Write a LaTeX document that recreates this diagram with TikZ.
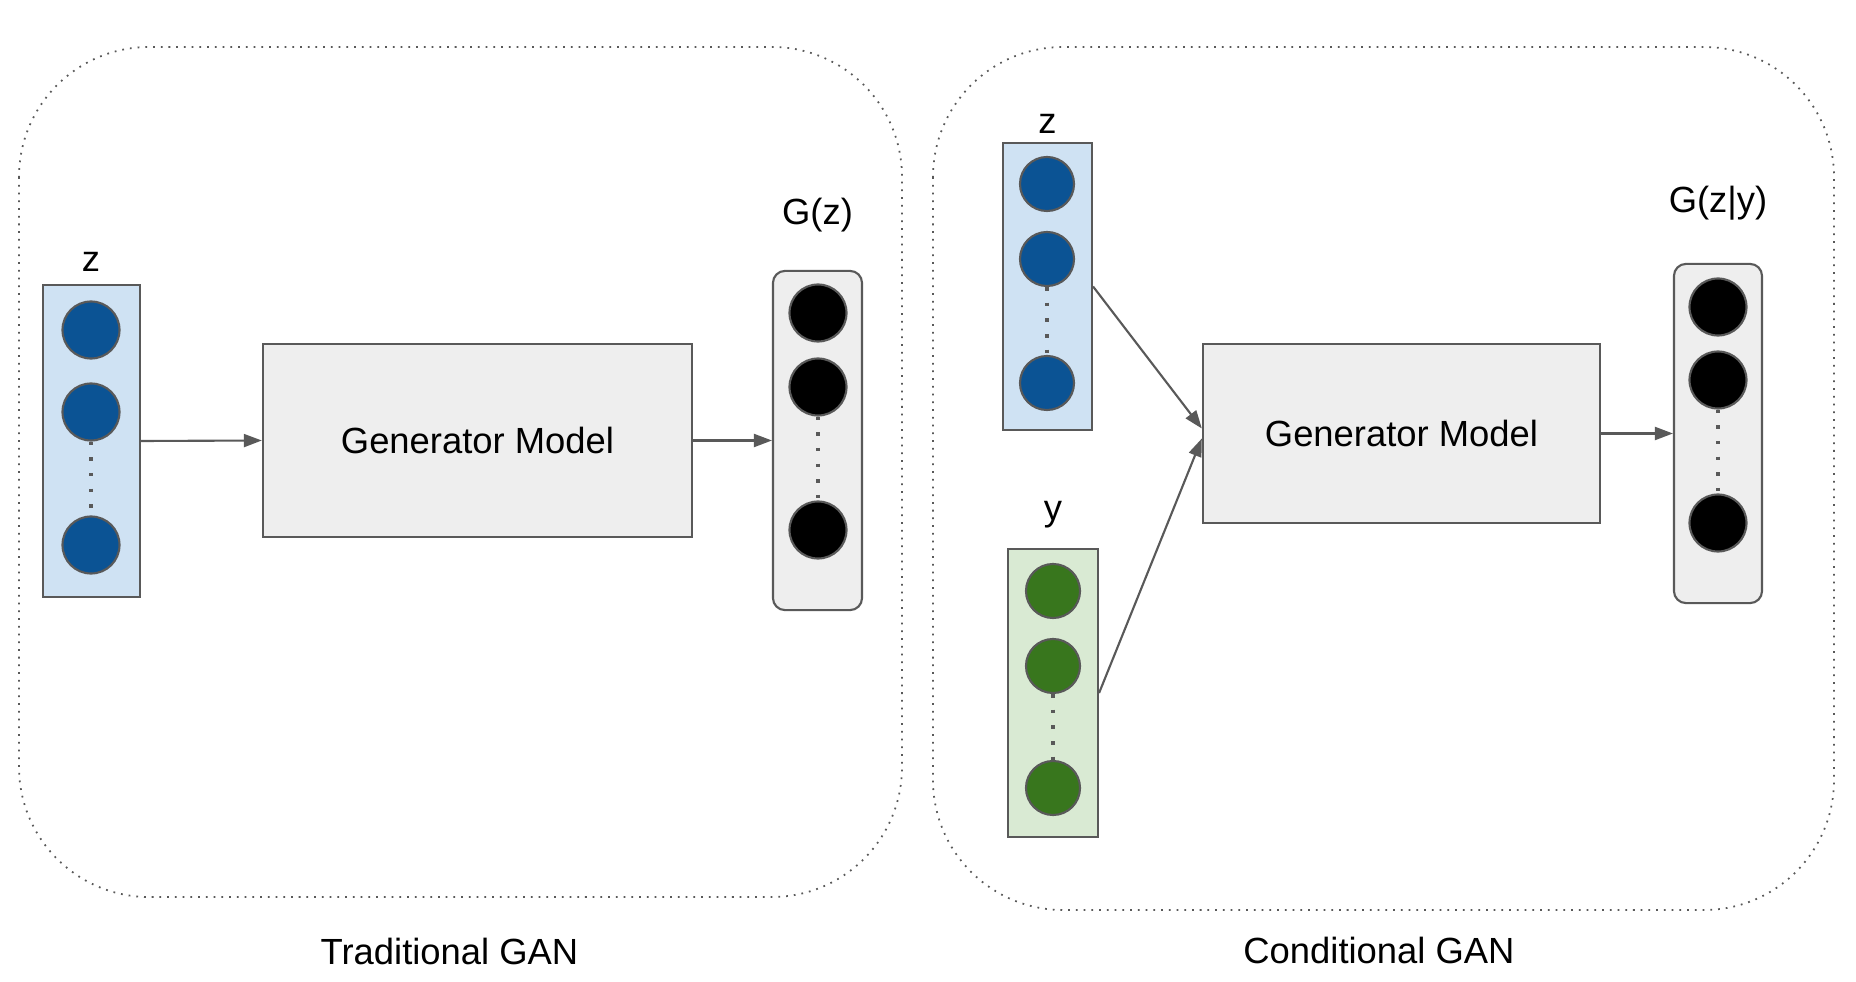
\documentclass[tikz,border=0pt]{standalone}
\usepackage{fontspec}
\setmainfont{Liberation Sans}
\usetikzlibrary{arrows.meta, positioning}
\definecolor{edge}{HTML}{595959}
\definecolor{zback}{HTML}{CFE2F3}
\definecolor{zdot}{HTML}{0B5394}
\definecolor{yback}{HTML}{D9EAD3}
\definecolor{ydot}{HTML}{38761D}
\definecolor{genback}{HTML}{EEEEEE}
\tikzset{>={Triangle[length=0.18cm, width=0.13cm]}, node distance = 1cm}

\begin{document}
\begin{tikzpicture}[x=0.01cm, y=-0.01cm,
frame/.style={draw=edge, line width=0.5pt, dash pattern=on 0.5pt off 1.7pt, rounded corners=1.3cm},
vec/.style={rectangle, draw=edge, line width=0.6pt, inner sep=0pt},
outvec/.style={vec, fill=genback, rounded corners=0.12cm, minimum width=0.89cm, minimum height=3.39cm},
unit/.style={circle, draw=edge, line width=0.6pt, minimum size=0.57cm, inner sep=0pt},
gen/.style={rectangle, draw=edge, line width=0.6pt, fill=genback, font=\fontsize{10.35}{12}\selectfont},
lbl/.style={anchor=base, inner sep=0pt, font=\fontsize{10.35}{12}\selectfont},
dots/.style={draw=edge, line width=1pt, dash pattern=on 1pt off 3.45pt},
link/.style={->, draw=edge, line width=0.6pt}]
    \useasboundingbox[fill=white] (0,0) rectangle (1856,982);

    \draw[frame] (19,47) rectangle (902,897);
    \draw[frame] (933,47) rectangle (1834,910);

    % traditional
    \node[vec, fill=zback, minimum width=0.97cm, minimum height=3.12cm] (tz) at (91.5,441) {};
    \node[unit, fill=zdot] (tz1) at (91,330) {};
    \node[unit, fill=zdot] (tz2) at (91,412) {};
    \node[unit, fill=zdot] (tz3) at (91,545) {};
    \node[lbl] (tzl) at (91,272) {z};

    \node[gen, minimum width=4.29cm, minimum height=1.93cm] (tgen) at (477.5,440.5) {Generator Model};

    \node[outvec] (tout) at (817.5,440.5) {};
    \node[unit, fill=black] (tout1) at (818,313) {};
    \node[unit, fill=black] (tout2) at (818,387) {};
    \node[unit, fill=black] (tout3) at (818,530) {};
    \node[lbl] (toutl) at (817.5,225) {G(z)};

    \draw[dots] (tz2) -- (tz3);
    \draw[dots] (tout2) -- (tout3);
    \draw[link] (tz.east) -- (tgen.west);
    \draw[link] (tgen.east) -- (tout.west);

    \node[lbl] (tcap) at (449.5,964) {Traditional GAN};

    % conditional
    \node[vec, fill=zback, minimum width=0.89cm, minimum height=2.87cm] (cz) at (1047.5,286.5) {};
    \node[unit, fill=zdot, minimum size=0.54cm] (cz1) at (1047,184) {};
    \node[unit, fill=zdot, minimum size=0.54cm] (cz2) at (1047,259) {};
    \node[unit, fill=zdot, minimum size=0.54cm] (cz3) at (1047,383) {};
    \node[lbl] (czl) at (1047.5,134) {z};

    \node[vec, fill=yback, minimum width=0.9cm, minimum height=2.88cm] (cy) at (1053,693) {};
    \node[unit, fill=ydot, minimum size=0.54cm] (cy1) at (1053,591) {};
    \node[unit, fill=ydot, minimum size=0.54cm] (cy2) at (1053,666) {};
    \node[unit, fill=ydot, minimum size=0.54cm] (cy3) at (1053,788) {};
    \node[lbl] (cyl) at (1053,521) {y};

    \node[gen, minimum width=3.97cm, minimum height=1.79cm] (cgen) at (1401.5,433.5) {Generator Model};

    \node[outvec, minimum width=0.88cm] (cout) at (1718,433.5) {};
    \node[unit, fill=black] (cout1) at (1718,307) {};
    \node[unit, fill=black] (cout2) at (1718,380) {};
    \node[unit, fill=black] (cout3) at (1718,523) {};
    \node[lbl] (coutl) at (1718,213) {G(z|y)};

    \draw[dots] (cz2) -- (cz3);
    \draw[dots] (cy2) -- (cy3);
    \draw[dots] (cout2) -- (cout3);
    \draw[link] (cz.east) -- ([yshift=0.05cm]cgen.west);
    \draw[link] (cy.east) -- ([yshift=-0.05cm]cgen.west);
    \draw[link] (cgen.east) -- (cout.west);

    \node[lbl] (ccap) at (1379,963) {Conditional GAN};
\end{tikzpicture}
\end{document}
